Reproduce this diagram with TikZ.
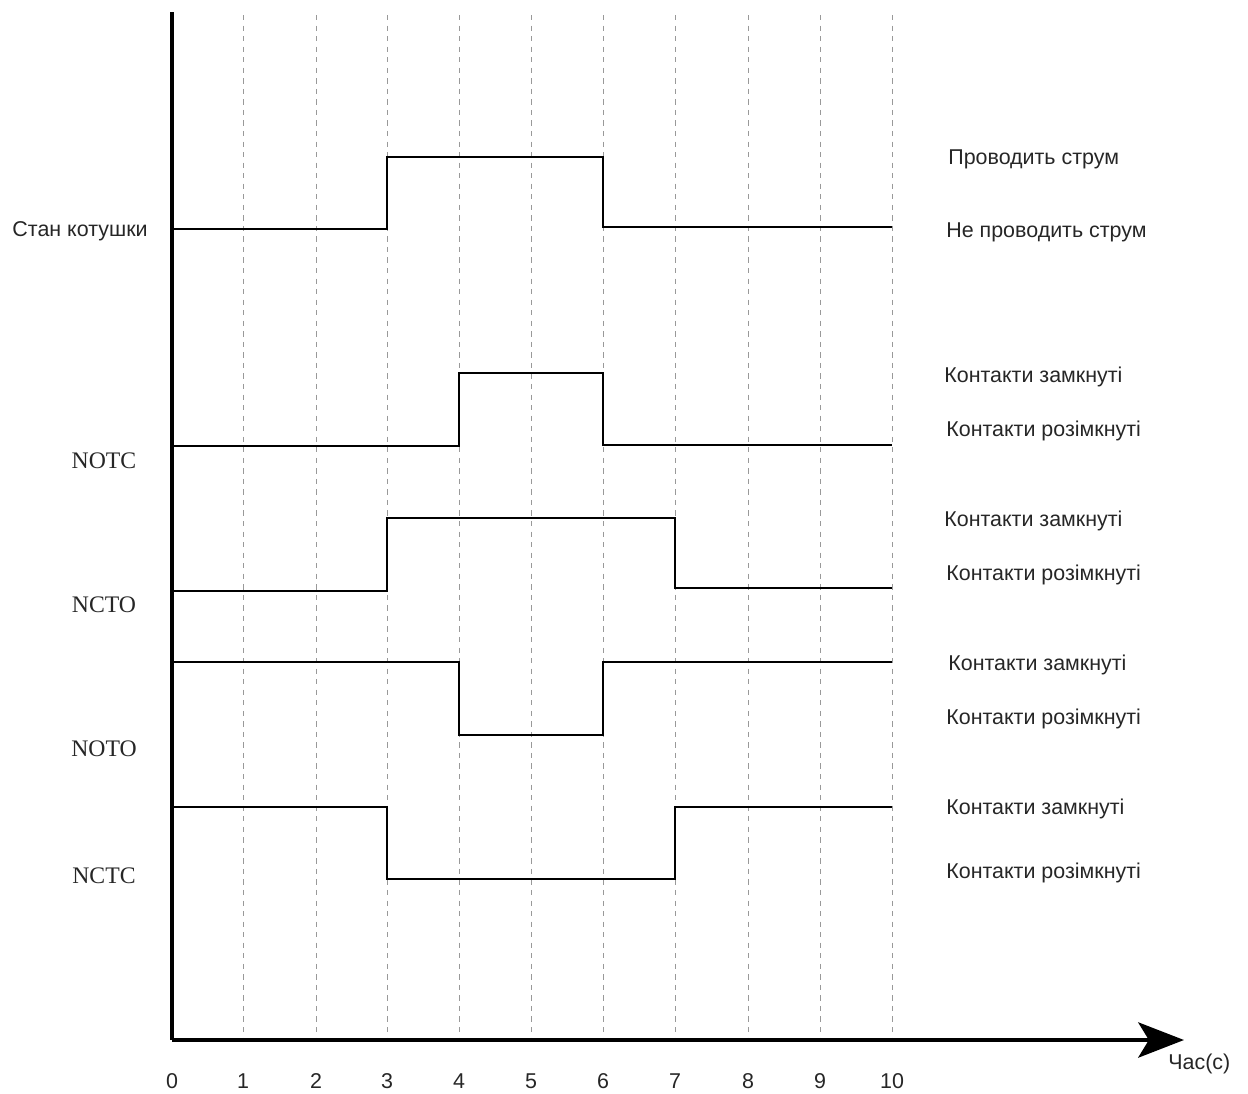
\documentclass[tikz,border=0pt]{standalone}
\usepackage{fontspec}
\setmainfont{Liberation Sans}
\newfontfamily\serifname{Liberation Serif}
\usetikzlibrary{arrows.meta}
\begin{document}
\begin{tikzpicture}[x=0.02cm,y=-0.02cm,
  axisline/.style={line width=2.6pt},
  gridline/.style={gray!80,dashed,line width=0.5pt},
  signal/.style={line width=1.6pt,line join=miter},
  lbl/.style={font=\fontsize{12.2}{14}\selectfont,text=black!85,inner sep=0pt},
  state/.style={lbl,anchor=west},
  tick/.style={lbl},
  relay/.style={font=\serifname\fontsize{13.5}{15}\selectfont,text=black!85,inner sep=0pt}]
\useasboundingbox (0,0) rectangle (1248,1093);

% time grid
\foreach \t/\x in {1/243,2/316,3/387,4/459,5/531,6/603,7/675,8/748,9/820,10/892}
  \draw[gridline] (\x,15) -- (\x,1040);

% axes
\coordinate (o) at (172,1040);
\coordinate (ytop) at (172,12);
\coordinate (xend) at (1184,1040);
\draw[axisline] (ytop) -- (o);
\draw[axisline,-{Stealth[length=26pt,width=20pt,inset=6pt]}] (o) -- (xend);

% tick labels
\foreach \t/\x in {0/172,1/243,2/316,3/387,4/459,5/531,6/603,7/675,8/748,9/820,10/892}
  \node[tick] (t\t) at (\x,1081) {\t};
\node[lbl,anchor=north west] (tlabel) at (1168,1054) {Час(с)};

% coil state
\draw[signal] (172,229) -- (387,229) -- (387,157) -- (603,157) -- (603,227) -- (892,227);
% NOTC
\draw[signal] (172,446) -- (459,446) -- (459,373) -- (603,373) -- (603,445) -- (892,445);
% NCTO
\draw[signal] (172,591) -- (387,591) -- (387,518) -- (675,518) -- (675,588) -- (892,588);
% NOTO
\draw[signal] (172,662) -- (459,662) -- (459,735) -- (603,735) -- (603,662) -- (892,662);
% NCTC
\draw[signal] (172,807) -- (387,807) -- (387,879) -- (675,879) -- (675,807) -- (892,807);

% signal names
\node[lbl,anchor=east] (coil) at (148,231) {Стан котушки};
\node[relay] (notc) at (104,461) {NOTC};
\node[relay] (ncto) at (104,605) {NCTO};
\node[relay] (noto) at (104,749) {NOTO};
\node[relay] (nctc) at (104,876) {NCTC};

% state names
\node[state] (s1) at (948,159) {Проводить струм};
\node[state] (s2) at (946,232) {Не проводить струм};
\node[state] (s3) at (944,377) {Контакти замкнуті};
\node[state] (s4) at (946,431) {Контакти розімкнуті};
\node[state] (s5) at (944,521) {Контакти замкнуті};
\node[state] (s6) at (946,575) {Контакти розімкнуті};
\node[state] (s7) at (948,665) {Контакти замкнуті};
\node[state] (s8) at (946,719) {Контакти розімкнуті};
\node[state] (s9) at (946,809) {Контакти замкнуті};
\node[state] (s10) at (946,873) {Контакти розімкнуті};
\end{tikzpicture}
\end{document}
